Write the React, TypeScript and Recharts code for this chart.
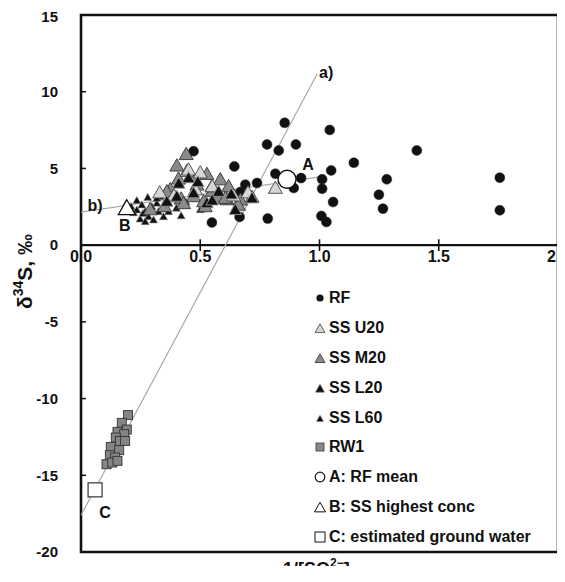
import {
  Legend,
  ReferenceArea,
  ReferenceDot,
  ReferenceLine,
  Scatter,
  ScatterChart,
  XAxis,
  YAxis,
} from "recharts";

type Pt = [number, number];

// values (x = 1/[SO4 2-], y = d34S)
const rf: Pt[] = [
  [0.854, 7.97], [1.043, 7.51], [0.78, 6.56], [0.829, 6.17], [0.901, 6.56],
  [0.472, 6.12], [1.144, 5.37], [1.049, 4.87], [0.643, 5.13], [0.815, 4.65],
  [1.011, 4.29], [1.011, 3.68], [0.892, 3.72], [0.923, 4.37], [0.689, 3.94],
  [0.738, 4.05], [0.668, 3.46], [1.057, 2.81], [0.549, 1.47], [0.665, 1.84],
  [0.783, 1.73], [1.008, 1.9], [1.029, 1.51], [1.408, 6.17], [1.282, 4.29],
  [1.249, 3.29], [1.266, 2.38], [1.756, 4.4], [1.756, 2.27],
];

const ssU20: Pt[] = [
  [0.444, 4.8], [0.5, 4.7], [0.815, 3.7], [0.33, 3.4], [0.39, 3.2],
  [0.48, 3.6], [0.64, 3.2], [0.55, 3.8], [0.7, 3.4], [0.451, 4.89],
];

const ssM20: Pt[] = [
  [0.441, 5.9], [0.402, 5.15], [0.528, 4.6], [0.584, 4.25], [0.619, 3.8],
  [0.409, 4.3], [0.374, 3.6], [0.472, 3.15], [0.521, 2.5], [0.57, 3.15],
  [0.612, 2.95], [0.668, 2.93], [0.717, 3.1], [0.46, 4.5], [0.42, 3.0],
  [0.35, 2.5], [0.29, 2.3], [0.55, 3.5], [0.66, 2.6], [0.43, 2.7], [0.388, 3.15],
  [0.36, 3.47], [0.486, 3.91], [0.549, 3.8], [0.514, 2.82], [0.605, 3.04],
];

const ssL20: Pt[] = [
  [0.451, 4.35], [0.402, 3.15], [0.472, 3.37], [0.528, 2.72], [0.577, 3.47],
  [0.647, 2.28], [0.717, 3.04], [0.41, 4.0], [0.49, 4.1], [0.55, 2.9],
  [0.36, 2.82], [0.63, 3.3],
];

const ssL60: Pt[] = [
  [0.234, 2.89], [0.21, 2.5], [0.234, 2.28], [0.255, 2.61], [0.269, 2.17],
  [0.248, 1.69], [0.283, 1.84], [0.297, 2.5], [0.318, 2.72], [0.325, 2.17],
  [0.346, 1.84], [0.353, 2.5], [0.367, 2.17], [0.332, 3.15], [0.304, 1.63],
  [0.269, 1.52], [0.19, 2.7], [0.28, 3.1], [0.4, 2.4], [0.42, 1.9],
  [0.44, 2.8], [0.38, 3.3], [0.5, 2.3], [0.26, 2.05], [0.22, 2.1], [0.318, 3.04],
];

const rw1: Pt[] = [
  [0.197, -11.08], [0.171, -11.58], [0.192, -12.02], [0.153, -12.17],
  [0.181, -12.32], [0.146, -12.54], [0.163, -12.76], [0.185, -12.76],
  [0.125, -13.15], [0.16, -13.36], [0.121, -13.69], [0.143, -13.84],
  [0.107, -14.28], [0.131, -14.17], [0.153, -14.06],
];

const rfMean: Pt[] = [[0.864, 4.29]];
const ssHighest: Pt[] = [[0.192, 2.38]];
const groundWater: Pt[] = [[0.059, -15.95]];

const lineA: Pt[] = [[0, -17.6], [0.99, 11.15]];
const lineB: Pt[] = [[0, 2.15], [1.0, 4.45]];

const xTicks = [0, 0.5, 1, 1.5, 2];
const xTickLabels = ["0.0", "0.5", "1.0", "1.5", "2.0"];
const yTicks = [-20, -15, -10, -5, 0, 5, 10, 15];

const legendNames = [
  "RF",
  "SS U20",
  "SS M20",
  "SS L20",
  "SS L60",
  "RW1",
  "A: RF mean",
  "B: SS highest conc",
  "C: estimated ground water",
];

const FONT = '"Liberation Sans", Arial, sans-serif';
const INK = "#111";

const toData = (pts: Pt[]) => pts.map(([x, y]) => ({ x, y }));

function triPoints(cx: number, cy: number, w: number) {
  const h = w * 0.88;
  return `${cx},${cy - h * 0.6} ${cx - w / 2},${cy + h * 0.4} ${cx + w / 2},${cy + h * 0.4}`;
}

const triangle =
  (w: number, fill: string, stroke: string, sw = 1) =>
  // eslint-disable-next-line @typescript-eslint/no-explicit-any
  (p: any) => (
    <polygon points={triPoints(p.cx, p.cy, w)} fill={fill} stroke={stroke} strokeWidth={sw} />
  );

const square =
  (s: number, fill: string, stroke: string, sw = 1) =>
  // eslint-disable-next-line @typescript-eslint/no-explicit-any
  (p: any) => (
    <rect x={p.cx - s / 2} y={p.cy - s / 2} width={s} height={s} fill={fill} stroke={stroke} strokeWidth={sw} />
  );

const circle =
  (r: number, fill: string, stroke: string, sw = 1) =>
  // eslint-disable-next-line @typescript-eslint/no-explicit-any
  (p: any) => <circle cx={p.cx} cy={p.cy} r={r} fill={fill} stroke={stroke} strokeWidth={sw} />;

const noShape = () => <g />;

const tag =
  (text: string, dx: number, dy: number, anchor: "middle" | "start" = "middle") =>
  // eslint-disable-next-line @typescript-eslint/no-explicit-any
  (props: any) => {
    const vb = props.viewBox;
    return (
      <text
        x={vb.x + dx}
        y={vb.y + dy}
        textAnchor={anchor}
        dominantBaseline="central"
        fontFamily={FONT}
        fontWeight="bold"
        fontSize={16}
        fill={INK}
      >
        {text}
      </text>
    );
  };

function LegendMarker({ i }: { i: number }) {
  const c = 7;
  let el: React.ReactNode = null;
  if (i === 0) el = <circle cx={c} cy={c} r={3.6} fill={INK} />;
  if (i === 1) el = <polygon points={triPoints(c, c + 1, 10)} fill="#d6d6d6" stroke="#444" strokeWidth={0.8} />;
  if (i === 2) el = <polygon points={triPoints(c, c + 1, 10)} fill="#8a8a8a" stroke="#333" strokeWidth={0.8} />;
  if (i === 3) el = <polygon points={triPoints(c, c + 1, 9)} fill={INK} stroke="#777" strokeWidth={0.6} />;
  if (i === 4) el = <polygon points={triPoints(c, c + 1, 7)} fill={INK} stroke="#777" strokeWidth={0.5} />;
  if (i === 5) el = <rect x={c - 4} y={c - 4} width={8} height={8} fill="#8a8a8a" stroke="#333" strokeWidth={0.8} />;
  if (i === 6) el = <circle cx={c} cy={c} r={4.8} fill="#fff" stroke={INK} strokeWidth={1.2} />;
  if (i === 7) el = <polygon points={triPoints(c, c + 1, 11)} fill="#fff" stroke={INK} strokeWidth={1} />;
  if (i === 8) el = <rect x={c - 5} y={c - 5} width={10} height={10} fill="#fff" stroke={INK} strokeWidth={1} />;
  return (
    <svg width={14} height={14} style={{ display: "block", overflow: "visible" }}>
      {el}
    </svg>
  );
}

function LegendBox() {
  return (
    <div style={{ fontFamily: FONT, fontWeight: "bold", fontSize: 16, color: INK }}>
      {legendNames.map((name, i) => (
        <div key={name} style={{ display: "flex", alignItems: "center", height: 29.9 }}>
          <LegendMarker i={i} />
          <span style={{ marginLeft: 2, whiteSpace: "nowrap" }}>{name}</span>
        </div>
      ))}
    </div>
  );
}

export default function App() {
  return (
    <div style={{ width: 557, height: 574, marginBottom: -16 }}>
      <ScatterChart
        width={557}
        height={574}
        margin={{ top: 7, right: 7, bottom: 0, left: 0 }}
      >
        <XAxis
          type="number"
          dataKey="x"
          domain={[0, 2]}
          ticks={xTicks}
          allowDataOverflow
          tick={false}
          tickLine={false}
          axisLine={false}
          height={30}
          label={(props: any) => {
            const vb = props.viewBox;
            const x0 = vb.x + vb.width / 2 - 36.5;
            return (
              <text
                x={x0}
                y={vb.y + 23}
                fontFamily={FONT}
                fontWeight="bold"
                fontSize={18}
                fill={INK}
              >
                <tspan>1/[SO</tspan>
                <tspan dy={3} fontSize={12}>4</tspan>
                <tspan dx={-6.7} dy={-11} fontSize={12}>2−</tspan>
                <tspan dy={8}>]</tspan>
              </text>
            );
          }}
        />
        <YAxis
          type="number"
          dataKey="y"
          domain={[-20, 15]}
          ticks={yTicks}
          allowDataOverflow
          width={73}
          axisLine={false}
          tickSize={-5}
          tickMargin={28}
          tickLine={{ stroke: INK, strokeWidth: 1.5 }}
          tick={{ fontFamily: FONT, fontWeight: "bold", fontSize: 15, fill: INK }}
          label={(props: any) => {
            const vb = props.viewBox;
            const x = vb.x + 16;
            const y = vb.y + vb.height / 2 - 12;
            return (
              <text
                x={x}
                y={y}
                transform={`rotate(-90, ${x}, ${y})`}
                textAnchor="middle"
                dominantBaseline="central"
                fontFamily={FONT}
                fontWeight="bold"
                fontSize={21}
                fill={INK}
              >
                <tspan>δ</tspan>
                <tspan dy={-6} fontSize={14}>34</tspan>
                <tspan dy={6}>S, ‰</tspan>
              </text>
            );
          }}
        />

        {/* frame and the x axis at y = 0 */}
        <ReferenceArea
          x1={0}
          x2={2}
          y1={-20}
          y2={15}
          fill="none"
          fillOpacity={0}
          stroke={INK}
          strokeWidth={2.6}
          ifOverflow="visible"
        />
        <ReferenceLine y={0} stroke={INK} strokeWidth={2.4} />
        {xTicks.map((t, i) => (
          <ReferenceLine
            key={t}
            segment={[
              { x: t, y: -0.38 },
              { x: t, y: 0.38 },
            ]}
            stroke={INK}
            strokeWidth={1.6}
            ifOverflow="visible"
            label={tag(xTickLabels[i], 0, 17)}
          />
        ))}

        <Scatter
          data={toData(lineA)}
          line={{ stroke: "#a8a8a8", strokeWidth: 1.2 }}
          shape={noShape}
          isAnimationActive={false}
        />
        <Scatter
          data={toData(lineB)}
          line={{ stroke: "#a8a8a8", strokeWidth: 1.2 }}
          shape={noShape}
          isAnimationActive={false}
        />

        <Scatter data={toData(rw1)} shape={square(9, "#858585", "#333", 0.9)} isAnimationActive={false} />
        <Scatter data={toData(rf)} shape={circle(5, INK, "#333", 0.5)} isAnimationActive={false} />
        <Scatter data={toData(ssL60)} shape={triangle(8, INK, "#888", 0.6)} isAnimationActive={false} />
        <Scatter data={toData(ssM20)} shape={triangle(14, "#8a8a8a", "#333", 0.9)} isAnimationActive={false} />
        <Scatter data={toData(ssU20)} shape={triangle(14, "#d6d6d6", "#444", 0.9)} isAnimationActive={false} />
        <Scatter data={toData(ssL20)} shape={triangle(12.5, INK, "#999", 0.9)} isAnimationActive={false} />

        <Scatter data={toData(rfMean)} shape={circle(9, "#fff", INK, 1.4)} isAnimationActive={false} />
        <Scatter data={toData(ssHighest)} shape={triangle(17, "#fff", INK, 1.2)} isAnimationActive={false} />
        <Scatter data={toData(groundWater)} shape={square(14, "#fff", "#333", 1.2)} isAnimationActive={false} />

        <ReferenceDot x={lineA[1][0]} y={lineA[1][1]} r={0} fill="none" stroke="none" label={tag("a)", 2, -2, "start")} />
        <ReferenceDot x={lineB[0][0]} y={lineB[0][1]} r={0} fill="none" stroke="none" label={tag("b)", 14, -7)} />
        <ReferenceDot x={rfMean[0][0]} y={rfMean[0][1]} r={0} fill="none" stroke="none" label={tag("A", 21, -15)} />
        <ReferenceDot x={ssHighest[0][0]} y={ssHighest[0][1]} r={0} fill="none" stroke="none" label={tag("B", -2, 17)} />
        <ReferenceDot x={groundWater[0][0]} y={groundWater[0][1]} r={0} fill="none" stroke="none" label={tag("C", 10, 23)} />

        <Legend
          layout="vertical"
          align="center"
          verticalAlign="middle"
          wrapperStyle={{ left: 305, top: 275, width: 245 }}
          content={() => <LegendBox />}
        />
      </ScatterChart>
    </div>
  );
}
